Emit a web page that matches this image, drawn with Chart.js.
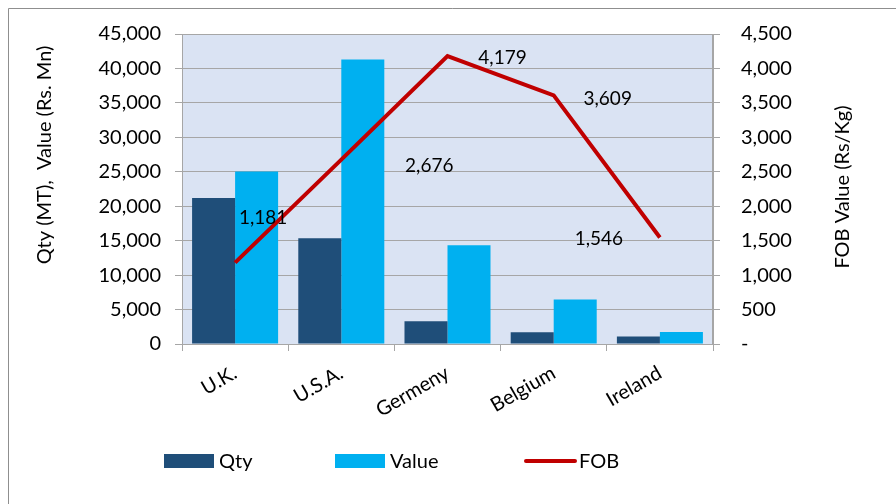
<!DOCTYPE html>
<html>
<head>
<meta charset="utf-8">
<script src="https://cdn.jsdelivr.net/npm/chart.js@4.4.1/dist/chart.umd.min.js"></script>
<style>
  html, body { margin: 0; padding: 0; background: #fff; }
  #wrap { width: 896px; height: 504px; position: relative; }
</style>
</head>
<body>
<div id="wrap"><canvas id="exportChart" width="896" height="504"></canvas></div>
<script>
// Export data by destination
const countries = ["U.K.", "U.S.A.", "Germeny", "Belgium", "Ireland"];
const qty = [21200, 15350, 3300, 1720, 1080];
const value = [25050, 41300, 14350, 6470, 1750];
const fob = [1181, 2676, 4179, 3609, 1546];

const leftTicks = [0, 5000, 10000, 15000, 20000, 25000, 30000, 35000, 40000, 45000];
const rightTicks = [0, 500, 1000, 1500, 2000, 2500, 3000, 3500, 4000, 4500];

// label offsets from each FOB point (px)
const fobLabelShift = [[28, -45], [88, 6], [55, 2], [54, 3], [-61, 1]];

const FONT = "Lato, 'Open Sans', sans-serif";
const fmt = (v) => v.toLocaleString("en-US");

// background of the plot area, outer frame, axis titles
const plotBg = {
  id: "plotBg",
  beforeDraw(chart) {
    const { ctx, chartArea: a } = chart;
    ctx.save();
    ctx.fillStyle = "#dae3f3";
    ctx.fillRect(a.left, a.top, a.right - a.left, a.bottom - a.top);
    ctx.strokeStyle = "#8f8f8f";
    ctx.lineWidth = 1;
    ctx.beginPath();
    ctx.moveTo(8.5, 504);
    ctx.lineTo(8.5, 8.5);
    ctx.lineTo(896, 8.5);
    ctx.stroke();

    ctx.fillStyle = "#000";
    ctx.font = "20px " + FONT;
    ctx.textAlign = "center";
    ctx.textBaseline = "middle";
    ctx.translate(45, 155);
    ctx.rotate(-Math.PI / 2);
    ctx.fillText("Qty (MT),  Value (Rs. Mn)", 0, 0);
    ctx.rotate(Math.PI / 2);
    ctx.translate(843 - 45, 187 - 155);
    ctx.rotate(-Math.PI / 2);
    ctx.fillText("FOB Value (Rs/Kg)", 0, 0);
    ctx.restore();
  },
  afterDatasetsDraw(chart) {
    const { ctx, chartArea: a } = chart;
    ctx.save();
    ctx.strokeStyle = "#a6a6a6";
    ctx.lineWidth = 1;
    ctx.strokeRect(a.left + 0.5, a.top + 0.5, a.right - a.left - 1, a.bottom - a.top);
    ctx.restore();
  }
};

// FOB value labels
const fobLabels = {
  id: "fobLabels",
  afterDatasetsDraw(chart) {
    const { ctx } = chart;
    const meta = chart.getDatasetMeta(2);
    ctx.save();
    ctx.font = "19px " + FONT;
    ctx.fillStyle = "#000";
    ctx.textAlign = "center";
    ctx.textBaseline = "middle";
    meta.data.forEach((pt, i) => {
      const [dx, dy] = fobLabelShift[i];
      ctx.fillText(fmt(fob[i]), pt.x + dx, pt.y + dy);
    });
    ctx.restore();
  }
};

// legend drawn under the axis
const bottomLegend = {
  id: "bottomLegend",
  afterDraw(chart) {
    const { ctx } = chart;
    const y = 461;
    const xs = [164, 335, 524];
    ctx.save();
    ctx.font = "20px " + FONT;
    ctx.textBaseline = "middle";
    chart.data.datasets.forEach((ds, i) => {
      const x = xs[i];
      if (ds.type === "line") {
        ctx.strokeStyle = ds.borderColor;
        ctx.lineWidth = 4;
        ctx.lineCap = "round";
        ctx.beginPath();
        ctx.moveTo(x + 2, y);
        ctx.lineTo(x + 51, y);
        ctx.stroke();
      } else {
        ctx.fillStyle = ds.backgroundColor;
        ctx.fillRect(x, y - 7, 50, 14);
      }
      ctx.fillStyle = "#000";
      ctx.fillText(ds.label, x + 55, y + 1);
    });
    ctx.restore();
  }
};

new Chart(document.getElementById("exportChart").getContext("2d"), {
  data: {
    labels: countries,
    datasets: [
      {
        type: "bar",
        label: "Qty",
        data: qty,
        yAxisID: "y",
        backgroundColor: "#1f4e79",
        categoryPercentage: 0.81,
        barPercentage: 1,
        order: 1
      },
      {
        type: "bar",
        label: "Value",
        data: value,
        yAxisID: "y",
        backgroundColor: "#00b0f0",
        categoryPercentage: 0.81,
        barPercentage: 1,
        order: 1
      },
      {
        type: "line",
        label: "FOB",
        data: fob,
        yAxisID: "y1",
        borderColor: "#c00000",
        borderWidth: 4,
        pointRadius: 0,
        tension: 0,
        order: 0
      }
    ]
  },
  options: {
    responsive: false,
    animation: false,
    layout: { padding: { left: 12, right: 20, top: 34, bottom: 70 } },
    plugins: {
      legend: { display: false },
      tooltip: { enabled: false }
    },
    scales: {
      x: {
        grid: { drawOnChartArea: false, color: "#a6a6a6", tickLength: 7, offset: true },
        border: { color: "#a6a6a6" },
        ticks: {
          color: "#000",
          font: { family: FONT, size: 20 },
          maxRotation: 30,
          minRotation: 30,
          padding: 10
        },
        afterFit(scale) { scale.height = 90; }
      },
      y: {
        position: "left",
        min: 0,
        max: 45000,
        afterBuildTicks(scale) { scale.ticks = leftTicks.map((v) => ({ value: v })); },
        grid: { color: "#a6a6a6", tickLength: 7 },
        border: { color: "#a6a6a6" },
        ticks: {
          color: "#000",
          font: { family: FONT, size: 20 },
          padding: 14,
          callback: (v) => fmt(v)
        },
        afterFit(scale) { scale.width = 170; }
      },
      y1: {
        position: "right",
        min: 0,
        max: 4500,
        afterBuildTicks(scale) { scale.ticks = rightTicks.map((v) => ({ value: v })); },
        grid: { drawOnChartArea: false, color: "#a6a6a6", tickLength: 7 },
        border: { color: "#a6a6a6" },
        ticks: {
          color: "#000",
          font: { family: FONT, size: 20 },
          padding: 21,
          callback: (v) => (v === 0 ? "-" : fmt(v))
        },
        afterFit(scale) { scale.width = 163; }
      }
    }
  },
  plugins: [plotBg, fobLabels, bottomLegend]
});
</script>
</body>
</html>
